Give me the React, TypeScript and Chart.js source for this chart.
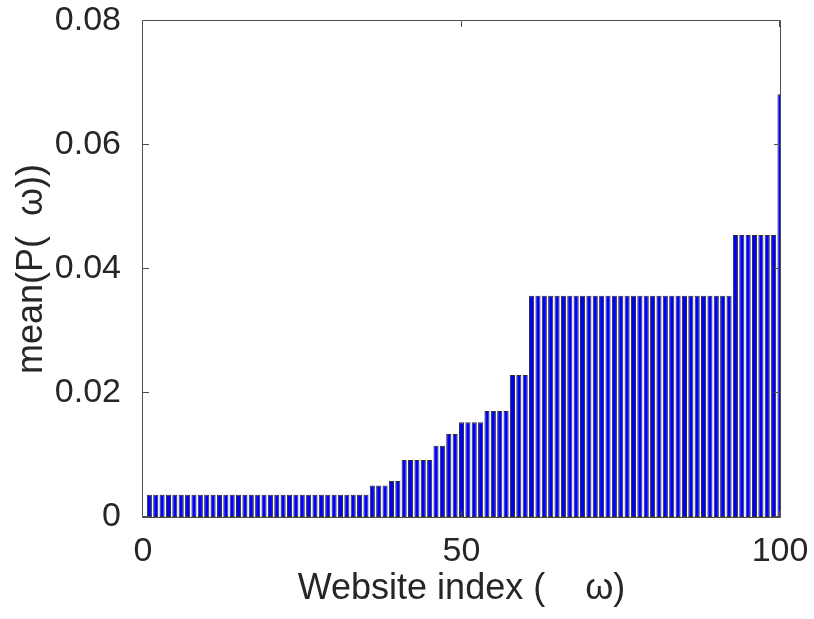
import React, { useEffect, useRef } from "react";
import { Chart, registerables } from "chart.js";

Chart.register(...registerables);

// Website index 1..100
const websiteIndex: number[] = [
  1, 2, 3, 4, 5, 6, 7, 8, 9, 10,
  11, 12, 13, 14, 15, 16, 17, 18, 19, 20,
  21, 22, 23, 24, 25, 26, 27, 28, 29, 30,
  31, 32, 33, 34, 35, 36, 37, 38, 39, 40,
  41, 42, 43, 44, 45, 46, 47, 48, 49, 50,
  51, 52, 53, 54, 55, 56, 57, 58, 59, 60,
  61, 62, 63, 64, 65, 66, 67, 68, 69, 70,
  71, 72, 73, 74, 75, 76, 77, 78, 79, 80,
  81, 82, 83, 84, 85, 86, 87, 88, 89, 90,
  91, 92, 93, 94, 95, 96, 97, 98, 99, 100,
];

// mean(P(ω)) per website
const meanP: number[] = [
  0.0036, 0.0036, 0.0036, 0.0036, 0.0036, 0.0036, 0.0036, 0.0036, 0.0036, 0.0036,
  0.0036, 0.0036, 0.0036, 0.0036, 0.0036, 0.0036, 0.0036, 0.0036, 0.0036, 0.0036,
  0.0036, 0.0036, 0.0036, 0.0036, 0.0036, 0.0036, 0.0036, 0.0036, 0.0036, 0.0036,
  0.0036, 0.0036, 0.0036, 0.0036, 0.0036, 0.0051, 0.0051, 0.0051, 0.0058, 0.0058,
  0.0092, 0.0092, 0.0092, 0.0092, 0.0092, 0.0115, 0.0115, 0.0134, 0.0134, 0.0153,
  0.0153, 0.0153, 0.0153, 0.0171, 0.0171, 0.0171, 0.0171, 0.0229, 0.0229, 0.0229,
  0.0357, 0.0357, 0.0357, 0.0357, 0.0357, 0.0357, 0.0357, 0.0357, 0.0357, 0.0357,
  0.0357, 0.0357, 0.0357, 0.0357, 0.0357, 0.0357, 0.0357, 0.0357, 0.0357, 0.0357,
  0.0357, 0.0357, 0.0357, 0.0357, 0.0357, 0.0357, 0.0357, 0.0357, 0.0357, 0.0357,
  0.0357, 0.0357, 0.0455, 0.0455, 0.0455, 0.0455, 0.0455, 0.0455, 0.0455, 0.0682,
];

const xTicks: number[] = [0, 50, 100];
const yTicks: number[] = [0, 0.02, 0.04, 0.06, 0.08];

const xTitle = "Website index (    ω)";
const yTitle = "mean(P(  ω))";

const FONT = "'Liberation Sans', Arial, Helvetica, sans-serif";
const TEXT = "#262626";
const AXIS = "#4d4d4d";

const boxPlugin = {
  id: "matlabBox",
  afterDraw(chart: any) {
    const { ctx, chartArea } = chart;
    const { left, right, top, bottom } = chartArea;
    const xs = chart.scales.x;
    const ys = chart.scales.y;
    const tl = 6;
    ctx.save();
    ctx.strokeStyle = AXIS;
    ctx.lineWidth = 1;
    ctx.beginPath();
    ctx.rect(Math.round(left) - 0.5, Math.round(top) - 0.5, Math.round(right - left) + 1, Math.round(bottom - top) + 1);
    for (const v of yTicks) {
      const y = Math.round(ys.getPixelForValue(v)) - 0.5;
      ctx.moveTo(left, y);
      ctx.lineTo(left + tl, y);
      ctx.moveTo(right, y);
      ctx.lineTo(right - tl, y);
    }
    for (const v of xTicks) {
      const x = Math.round(xs.getPixelForValue(v)) - 0.5;
      ctx.moveTo(x, bottom);
      ctx.lineTo(x, bottom - tl);
      ctx.moveTo(x, top);
      ctx.lineTo(x, top + tl);
    }
    ctx.stroke();
    ctx.restore();
  },
};

export default function App() {
  const ref = useRef<HTMLCanvasElement | null>(null);

  useEffect(() => {
    if (!ref.current) return;
    const data = websiteIndex.map((x, i) => ({ x, y: meanP[i] }));
    const chart = new Chart(ref.current, {
      type: "bar",
      data: {
        datasets: [
          {
            data: data as any,
            backgroundColor: "#0000ff",
            borderColor: "#2e2e2e",
            borderWidth: 1,
            borderSkipped: false,
            barPercentage: 0.8,
            categoryPercentage: 1,
            clip: 0 as any,
          },
        ],
      },
      options: {
        animation: false,
        responsive: false,
        layout: { padding: { top: 21, right: 34, left: 0, bottom: 0 } },
        plugins: {
          legend: { display: false },
          tooltip: { enabled: false },
        },
        scales: {
          x: {
            type: "linear",
            min: 0,
            max: 100,
            offset: false,
            grid: { display: false, drawTicks: false, offset: false },
            border: { display: false },
            afterBuildTicks: (scale: any) => {
              scale.ticks = xTicks.map((v) => ({ value: v }));
            },
            afterFit: (scale: any) => {
              scale.height = 102;
              scale.paddingLeft = 0;
              scale.paddingRight = 0;
            },
            ticks: {
              padding: 14,
              color: TEXT,
              font: { family: FONT, size: 34 },
              maxRotation: 0,
              callback: (v: any) => String(v),
            },
            title: {
              display: true,
              text: xTitle,
              color: TEXT,
              font: { family: FONT, size: 36 },
              padding: { top: 0, bottom: 8 },
            },
          },
          y: {
            type: "linear",
            min: 0,
            max: 0.08,
            grid: { display: false, drawTicks: false },
            border: { display: false },
            afterBuildTicks: (scale: any) => {
              scale.ticks = yTicks.map((v) => ({ value: v }));
            },
            afterFit: (scale: any) => {
              scale.width = 143;
              scale.paddingTop = 0;
              scale.paddingBottom = 0;
            },
            ticks: {
              padding: 22,
              color: TEXT,
              font: { family: FONT, size: 34 },
              callback: (v: any) => (Number(v) === 0 ? "0" : Number(v).toFixed(2)),
            },
            title: {
              display: true,
              text: yTitle,
              color: TEXT,
              font: { family: FONT, size: 36 },
              padding: { top: 10, bottom: 0 },
            },
          },
        },
      },
      plugins: [boxPlugin],
    });
    return () => chart.destroy();
  }, []);

  return (
    <div style={{ position: "fixed", left: 0, top: 0, width: 814, height: 619, background: "#fff" }}>
      <canvas ref={ref} width={814} height={619} />
    </div>
  );
}
